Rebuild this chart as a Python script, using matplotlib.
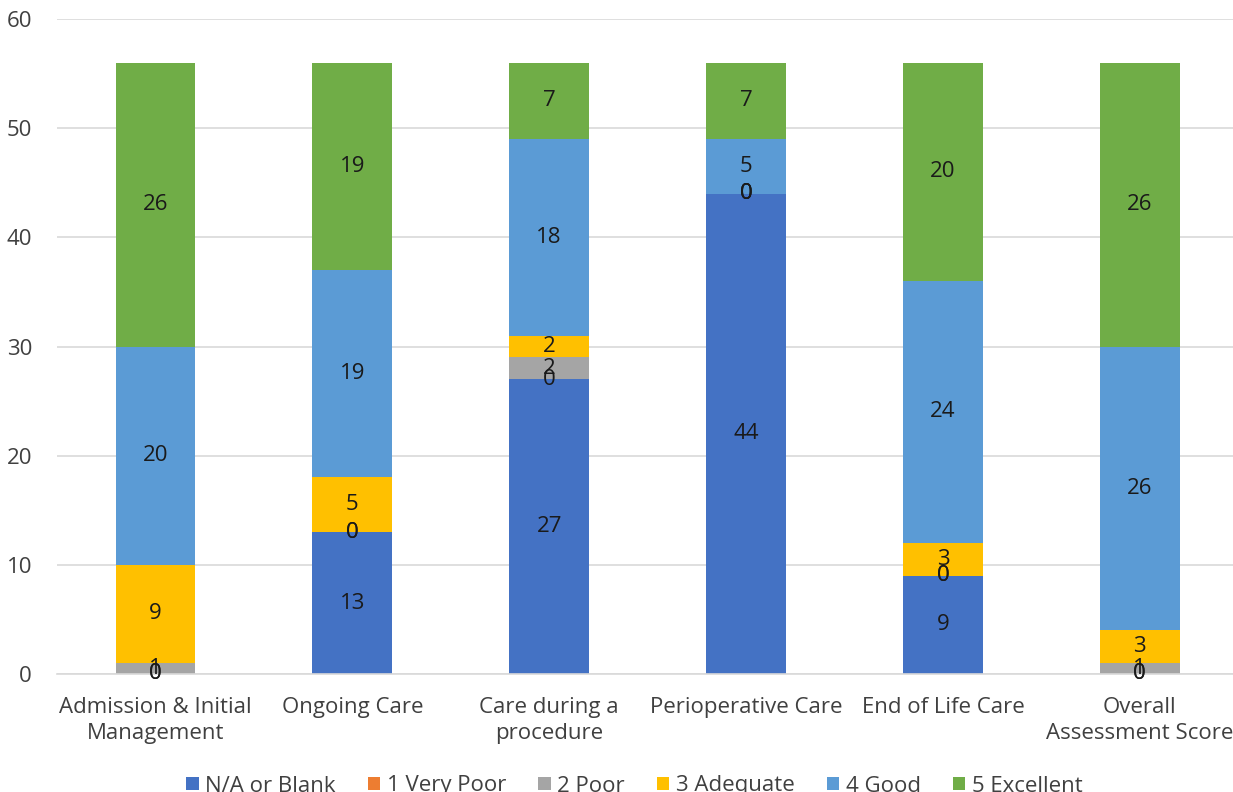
import matplotlib
matplotlib.use("Agg")
import matplotlib.pyplot as plt
import numpy as np

plt.rcParams['font.family'] = ['Open Sans', 'DejaVu Sans']

categories = ["Admission & Initial\nManagement", "Ongoing Care", "Care during a\nprocedure",
              "Perioperative Care", "End of Life Care", "Overall\nAssessment Score"]
series_names = ["N/A or Blank", "1 Very Poor", "2 Poor", "3 Adequate", "4 Good", "5 Excellent"]
na_blank = [0, 13, 27, 44, 9, 0]
very_poor = [0, 0, 0, 0, 0, 0]
poor = [1, 0, 2, 0, 0, 1]
adequate = [9, 5, 2, 0, 3, 3]
good = [20, 19, 18, 5, 24, 26]
excellent = [26, 19, 7, 7, 20, 26]
colors = ["#4472C4", "#ED7D31", "#A5A5A5", "#FFC000", "#5B9BD5", "#70AD47"]

fig = plt.figure(figsize=(12.33, 7.92), dpi=100)
ax = fig.add_axes([0.0462, 0.149, 0.958, 0.827])

x = np.arange(len(categories))
bottom = np.zeros(len(categories))
for name, vals, col in zip(series_names, [na_blank, very_poor, poor, adequate, good, excellent], colors):
    bars = ax.bar(x, vals, width=0.405, bottom=bottom, color=col, label=name, zorder=2)
    ax.bar_label(bars, labels=[str(v) for v in vals], label_type='center',
                 fontsize=16, color='#1a1a1a')
    bottom += np.array(vals)

ax.set_xlim(-0.5, len(categories) - 0.5)
ax.set_ylim(0, 60)
ax.set_yticks(range(0, 61, 10))
ax.set_xticks(x)
ax.set_xticklabels(categories, fontsize=16, color='#404040', linespacing=1.33)
ax.tick_params(axis='y', labelsize=16, labelcolor='#404040', length=0, pad=18)
ax.tick_params(axis='x', length=0, pad=16.5)
ax.grid(axis='y', color='#D9D9D9', linewidth=1.2, zorder=0)
for s in ['top', 'right', 'left']:
    ax.spines[s].set_visible(False)
ax.spines['bottom'].set_color('#D9D9D9')
ax.spines['bottom'].set_linewidth(1.2)

fig.legend(loc='center', bbox_to_anchor=(0.5146, 1 - 786 / 792), ncol=6, frameon=False,
           fontsize=16, handlelength=0.55, handleheight=0.55, handletextpad=0.3,
           columnspacing=1.45, labelcolor='#404040')

fig.savefig("out.png", dpi=100)
